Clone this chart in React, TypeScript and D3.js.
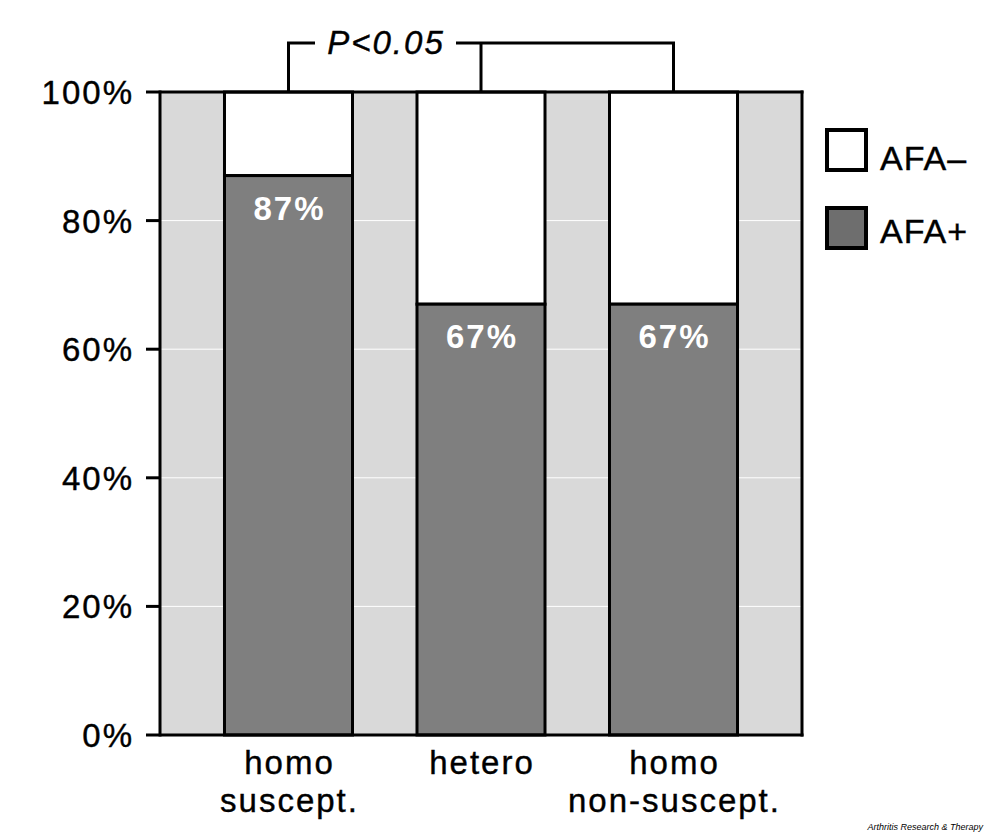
import * as d3 from 'd3'

const W = 1000
const H = 835
const FONT = '"Liberation Sans", Arial, Helvetica, sans-serif'

const categories = ['homo|suscept.', 'hetero', 'homo|non-suscept.']
const afaPos = [87, 67, 67] // % AFA+
const yTicks = [0, 20, 40, 60, 80, 100]
const legendItems = [
  { label: 'AFA–', fill: '#ffffff' },
  { label: 'AFA+', fill: '#6e6e6e' },
]

const PLOT = { l: 160, r: 802, t: 92, b: 735 }
const txt = { letterSpacing: '2px' }

export default function App() {
  const x = d3.scaleBand<string>().domain(categories).range([PLOT.l, PLOT.r]).paddingInner(0.335).paddingOuter(0.335)
  const y = d3.scaleLinear().domain([0, 100]).range([PLOT.b, PLOT.t])
  const bw = x.bandwidth()
  const cx = (c: string) => (x(c) as number) + bw / 2

  // bracket: group 1 vs (group 2 + group 3)
  const bx1 = cx(categories[0])
  const bx2 = cx(categories[1])
  const bx3 = cx(categories[2])
  const bTop = 43

  return (
    <div style={{ position: 'absolute', left: 0, top: 0 }}>
      <svg width={W} height={H} style={{ display: 'block', fontFamily: FONT }}>
        <rect width={W} height={H} fill="#ffffff" />
        <rect x={PLOT.l} y={PLOT.t} width={PLOT.r - PLOT.l} height={PLOT.b - PLOT.t} fill="#d9d9d9" />
        {yTicks.filter((t) => t > 0 && t < 100).map((t) => (
          <line key={t} x1={PLOT.l} x2={PLOT.r} y1={y(t)} y2={y(t)} stroke="#ffffff" strokeWidth={1} />
        ))}

        {categories.map((c, i) => {
          const x0 = x(c) as number
          return (
            <g key={c}>
              <rect x={x0} y={y(100)} width={bw} height={y(afaPos[i]) - y(100)} fill="#ffffff" stroke="#000" strokeWidth={3} />
              <rect x={x0} y={y(afaPos[i])} width={bw} height={y(0) - y(afaPos[i])} fill="#7f7f7f" stroke="#000" strokeWidth={3} />
              <text x={cx(c) + 1} y={y(afaPos[i]) + 44} textAnchor="middle" fill="#ffffff" fontWeight="bold" fontSize={33} style={txt}>
                {afaPos[i]}%
              </text>
            </g>
          )
        })}

        <line x1={PLOT.l} x2={PLOT.l} y1={PLOT.t - 1.5} y2={PLOT.b + 1.5} stroke="#000" strokeWidth={3} />
        <line x1={PLOT.r} x2={PLOT.r} y1={PLOT.t - 1.5} y2={PLOT.b + 1.5} stroke="#000" strokeWidth={3} />
        <line x1={PLOT.l} x2={PLOT.r + 1.5} y1={PLOT.t} y2={PLOT.t} stroke="#000" strokeWidth={3} />
        <line x1={PLOT.l} x2={PLOT.r + 1.5} y1={PLOT.b} y2={PLOT.b} stroke="#000" strokeWidth={3} />

        {yTicks.map((t) => (
          <g key={t}>
            <line x1={146} x2={PLOT.l} y1={y(t)} y2={y(t)} stroke="#000" strokeWidth={3} />
            <text x={134} y={y(t) + 12} textAnchor="end" fontSize={33} fill="#000" stroke="#000" strokeWidth={0.4} style={txt}>{t}%</text>
          </g>
        ))}

        {categories.map((c) => (
          <text key={c} textAnchor="middle" fontSize={33} fill="#000" stroke="#000" strokeWidth={0.4} style={txt}>
            {c.split('|').map((s, j) => (
              <tspan key={j} x={cx(c) + 1} y={774 + j * 38}>{s}</tspan>
            ))}
          </text>
        ))}

        <path d={`M${bx1},${PLOT.t} V${bTop} H${315}`} fill="none" stroke="#000" strokeWidth={3} />
        <path d={`M${456},${bTop} H${bx3} V${PLOT.t}`} fill="none" stroke="#000" strokeWidth={3} />
        <line x1={bx2} x2={bx2} y1={bTop} y2={PLOT.t} stroke="#000" strokeWidth={3} />
        <text x={386} y={54} textAnchor="middle" fontSize={33} fontStyle="italic" fill="#000" stroke="#000" strokeWidth={0.4} style={txt}>P&lt;0.05</text>

        {legendItems.map((d, i) => (
          <g key={d.label}>
            <rect x={827} y={130 + i * 78} width={39} height={40} fill={d.fill} stroke="#000" strokeWidth={4} />
            <text x={880} y={170 + i * 73} fontSize={34} fill="#000" stroke="#000" strokeWidth={0.4} style={{ letterSpacing: '1px' }}>{d.label}</text>
          </g>
        ))}

        <text x={983} y={830} textAnchor="end" fontSize={9} fontStyle="italic" fill="#000">Arthritis Research &amp; Therapy</text>
      </svg>
    </div>
  )
}
